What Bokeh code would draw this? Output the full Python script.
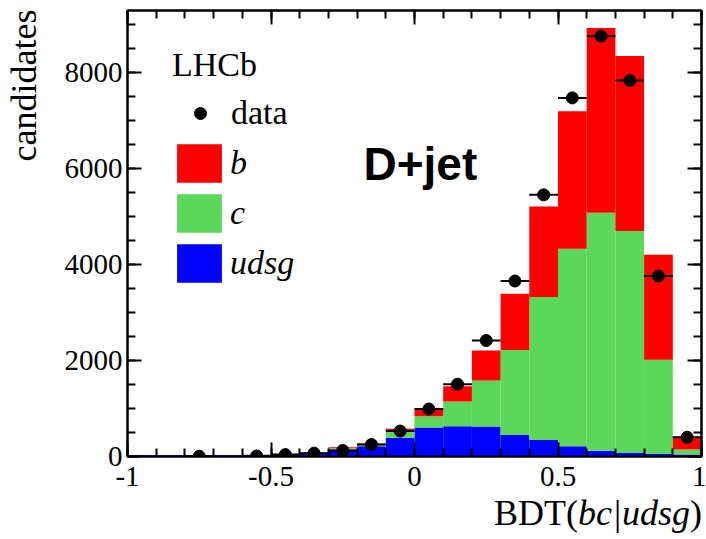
import numpy as np
from bokeh.plotting import figure
from bokeh.layouts import column
from bokeh.models import (LinearAxis, FixedTicker, Label, Legend, LegendItem, Div,
                          CustomLabelingPolicy)
from bokeh.embed import file_html
from bokeh.resources import INLINE

# ---- data -------------------------------------------------------------
bin_edges = [-1.0, -0.9, -0.8, -0.7, -0.6, -0.5, -0.4, -0.3, -0.2, -0.1, 0.0,
             0.1, 0.2, 0.3, 0.4, 0.5, 0.6, 0.7, 0.8, 0.9, 1.0]
udsg = [30, 30, 30, 30, 35, 50, 80, 140, 215, 390, 605, 630, 625, 450, 345, 215, 120, 75, 50, 40]
c_q = [0, 0, 0, 0, 0, 5, 5, 30, 35, 150, 235, 515, 960, 1770, 2975, 4110, 4955, 4620, 1965, 105]
b_q = [0, 0, 0, 0, 0, 0, 5, 25, 20, 37, 165, 320, 625, 1170, 1890, 2865, 3850, 3645, 2185, 270]

data_x = [-0.75, -0.55, -0.45, -0.35, -0.25, -0.15, -0.05, 0.05, 0.15, 0.25, 0.35,
          0.45, 0.55, 0.65, 0.75, 0.85, 0.95]
data_y = [5, 10, 40, 70, 125, 250, 530, 990, 1505, 2415, 3655, 5450, 7470, 8755, 7830, 3760, 400]
data_xerr = 0.05

x_ticks = [-1, -0.5, 0, 0.5, 1]
x_tick_labels = ["-1", "-0.5", "0", "0.5", "1"]
y_ticks = [0, 2000, 4000, 6000, 8000]
y_tick_labels = ["0", "2000", "4000", "6000", "8000"]

# ---- styling ------------------------------------------------------------
RED = "#ff0000"
GREEN = "#5bd75b"
BLUE = "#0000ff"
SERIF = "Liberation Serif"

p = figure(width=706, height=511, x_range=(-1, 1), y_range=(0, 9290),
           output_backend="svg", toolbar_location=None,
           min_border_left=127, min_border_right=4, min_border_top=10, min_border_bottom=55)
p.xgrid.visible = False
p.ygrid.visible = False
p.outline_line_color = "black"
p.outline_line_width = 2
p.background_fill_color = "white"
p.border_fill_color = "white"

edges = np.array(bin_edges)
left, right = edges[:-1], edges[1:]
u = np.array(udsg, dtype=float)
cc = np.array(c_q, dtype=float)
bb = np.array(b_q, dtype=float)

r_u = p.quad(left=left, right=right, bottom=0, top=u, fill_color=BLUE, line_color=None)
r_c = p.quad(left=left, right=right, bottom=u, top=u + cc, fill_color=GREEN, line_color=None)
r_b = p.quad(left=left, right=right, bottom=u + cc, top=u + cc + bb, fill_color=RED, line_color=None)

dx = np.array(data_x)
dy = np.array(data_y)
p.segment(x0=dx - data_xerr, x1=dx + data_xerr, y0=dy, y1=dy, line_color="black", line_width=2)
r_d = p.scatter(dx, dy, size=12, marker="circle", fill_color="black", line_color="black")

# ---- axes -----------------------------------------------------------------
x_ticker = FixedTicker(ticks=x_ticks, minor_ticks=list(np.round(np.arange(-1, 1.001, 0.1), 2)))
y_ticker = FixedTicker(ticks=y_ticks, minor_ticks=list(np.arange(0, 9300, 500)))

def style_axis(ax, show_labels):
    ax.axis_line_width = 2
    ax.major_tick_line_width = 2
    ax.minor_tick_line_width = 2
    ax.major_tick_in = 14
    ax.major_tick_out = 0
    ax.minor_tick_in = 8
    ax.minor_tick_out = 0
    if show_labels:
        ax.major_label_text_font = SERIF
        ax.major_label_text_font_size = "29px"
        ax.major_label_text_color = "black"
    else:
        ax.major_label_text_font_size = "1px"
        ax.major_label_standoff = 0
        ax.major_label_policy = CustomLabelingPolicy(
            code="for (const i of indices) indices.unset(i)")

xa = p.xaxis[0]
xa.ticker = x_ticker
xa.major_label_overrides = dict(zip(x_ticks, x_tick_labels))
style_axis(xa, True)
xa.major_label_standoff = 10

ya = p.yaxis[0]
ya.ticker = y_ticker
ya.major_label_overrides = dict(zip(y_ticks, y_tick_labels))
style_axis(ya, True)
ya.major_label_standoff = 5

top_ax = LinearAxis(ticker=x_ticker)
style_axis(top_ax, False)
p.add_layout(top_ax, "above")
right_ax = LinearAxis(ticker=y_ticker)
style_axis(right_ax, False)
p.add_layout(right_ax, "right")

# ---- axis titles ---------------------------------------------------------
p.add_layout(Label(x=2, y=447, x_units="screen", y_units="screen", text="candidates",
                   angle=np.pi / 2, text_align="right", text_baseline="alphabetic",
                   text_font=SERIF, text_font_size="36px", text_color="black"), "left")

p.add_layout(Label(x=236, y=293, x_units="screen", y_units="screen", text="D+jet",
                   text_align="left", text_baseline="alphabetic", text_color="black",
                   text_font="Liberation Sans", text_font_style="bold", text_font_size="46px"))

x_title = Div(text="BDT(<i>bc|udsg</i>)", width=702, height=36, margin=(-16, 0, 0, 0),
              styles={"text-align": "right", "font-family": "'Liberation Serif'",
                      "font-size": "36px", "line-height": "36px", "color": "black"})

# ---- legends ---------------------------------------------------------------
leg1 = Legend(items=[LegendItem(label="data", renderers=[r_d])], title="LHCb",
              location=(45, 324), glyph_width=56, glyph_height=30, spacing=0, padding=0, margin=0,
              border_line_color=None, background_fill_alpha=0, label_standoff=3,
              label_text_font=SERIF, label_text_font_size="34px", label_text_color="black",
              title_text_font=SERIF, title_text_font_size="34px", title_text_font_style="normal",
              title_text_color="black", title_standoff=10)
leg2 = Legend(items=[LegendItem(label="b", renderers=[r_b]),
                     LegendItem(label="c", renderers=[r_c]),
                     LegendItem(label="udsg", renderers=[r_u])],
              location=(44, 169), glyph_width=56, glyph_height=48, spacing=2, padding=0, margin=0,
              border_line_color=None, background_fill_alpha=0, label_standoff=3,
              label_text_font=SERIF, label_text_font_size="34px", label_text_font_style="italic",
              label_text_color="black")
p.add_layout(leg1)
p.add_layout(leg2)

layout = column(p, x_title, spacing=0)
open("out.html", "w").write(file_html(layout, INLINE))
